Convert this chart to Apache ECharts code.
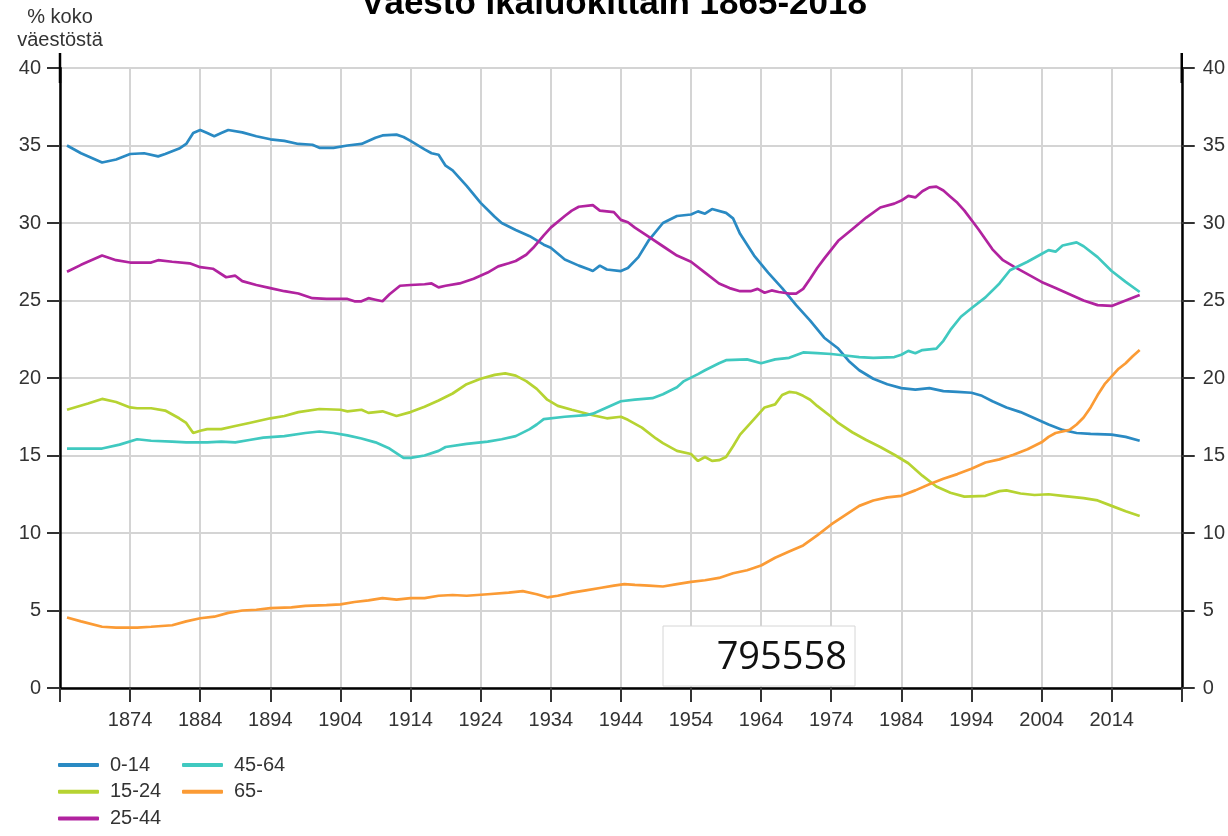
<!DOCTYPE html>
<html>
<head>
<meta charset="utf-8">
<script src="https://cdn.jsdelivr.net/npm/echarts@6/dist/echarts.min.js"></script>
<style>
html,body{margin:0;padding:0;background:#fff;}
#chart{width:1228px;height:836px;}
</style>
</head>
<body>
<div id="chart"></div>
<script>
const titleText = 'Väestö ikäluokittain 1865-2018';
const yAxisName = '% koko\nväestöstä';
const seriesNames = ['0-14', '15-24', '25-44', '45-64', '65-'];
const boxValue = '795558';

const age0_14 = [[1865,35.0],[1867,34.5],[1870,33.9],[1872,34.1],[1874,34.45],[1876,34.5],[1878,34.3],[1879,34.45],[1881,34.8],[1882,35.1],[1883,35.8],[1884,36.0],[1885,35.8],[1886,35.6],[1887,35.8],[1888,36.0],[1890,35.85],[1892,35.6],[1894,35.4],[1896,35.3],[1898,35.1],[1900,35.05],[1901,34.85],[1903,34.85],[1905,35.0],[1907,35.1],[1909,35.5],[1910,35.65],[1912,35.7],[1913,35.55],[1914,35.3],[1916,34.75],[1917,34.5],[1918,34.4],[1919,33.7],[1920,33.4],[1922,32.4],[1924,31.3],[1926,30.4],[1927,30.0],[1929,29.55],[1931,29.15],[1933,28.6],[1934,28.4],[1936,27.65],[1938,27.25],[1939.5,27.0],[1940,26.9],[1941,27.25],[1942,27.0],[1944,26.9],[1945,27.1],[1946.5,27.8],[1948,28.9],[1950,30.0],[1952,30.45],[1954,30.55],[1955,30.75],[1956,30.6],[1957,30.9],[1959,30.65],[1960,30.3],[1961,29.3],[1963,27.9],[1965,26.8],[1967,25.8],[1969,24.7],[1971,23.7],[1973,22.6],[1975,21.9],[1976.5,21.1],[1978,20.5],[1980,19.95],[1982,19.6],[1984,19.35],[1986,19.25],[1988,19.35],[1990,19.15],[1992,19.1],[1994,19.05],[1995.5,18.85],[1997,18.5],[1999,18.1],[2001,17.8],[2003,17.4],[2005,17.0],[2007,16.65],[2009,16.45],[2011,16.4],[2014,16.35],[2016,16.2],[2018,15.95]];

const age15_24 = [[1865,17.95],[1868,18.35],[1870,18.65],[1872,18.45],[1874,18.1],[1875,18.05],[1877,18.05],[1879,17.9],[1881,17.4],[1882,17.1],[1883,16.45],[1884,16.6],[1885,16.7],[1887,16.7],[1889,16.9],[1891,17.1],[1894,17.4],[1896,17.55],[1898,17.8],[1901,18.0],[1904,17.95],[1905,17.85],[1907,17.95],[1908,17.75],[1910,17.85],[1912,17.55],[1914,17.8],[1916,18.15],[1918,18.55],[1920,19.0],[1922,19.6],[1924,19.95],[1926,20.2],[1927.5,20.3],[1929,20.15],[1930.5,19.8],[1932,19.3],[1933.5,18.6],[1935,18.2],[1937,17.95],[1940,17.6],[1942,17.4],[1944,17.5],[1945,17.3],[1947,16.8],[1949,16.1],[1950,15.8],[1952,15.3],[1954,15.1],[1955,14.65],[1956,14.9],[1957,14.65],[1958,14.7],[1959,14.9],[1960,15.6],[1961,16.35],[1963,17.35],[1964.5,18.1],[1966,18.3],[1967,18.9],[1968,19.1],[1969,19.05],[1970,18.85],[1971,18.6],[1972,18.2],[1974,17.5],[1975,17.1],[1977,16.5],[1979,16.0],[1981,15.55],[1983,15.05],[1985,14.5],[1987,13.7],[1989,13.0],[1991,12.6],[1993,12.35],[1996,12.4],[1998,12.7],[1999,12.75],[2001,12.55],[2003,12.45],[2005,12.5],[2007,12.4],[2010,12.25],[2012,12.1],[2014,11.75],[2016,11.4],[2018,11.1]];

const age25_44 = [[1865,26.85],[1867,27.3],[1870,27.9],[1872,27.6],[1874,27.45],[1877,27.45],[1878,27.6],[1880,27.5],[1882.5,27.4],[1884,27.15],[1885.8,27.05],[1887.7,26.5],[1889,26.6],[1890,26.25],[1892,26.0],[1894,25.8],[1896,25.6],[1898,25.45],[1900,25.15],[1902,25.1],[1905,25.1],[1906,24.95],[1907,24.95],[1908,25.15],[1909,25.05],[1910,24.95],[1911,25.4],[1912.5,25.95],[1914,26.0],[1916,26.05],[1917,26.1],[1918,25.85],[1919,25.95],[1921,26.1],[1923,26.4],[1925,26.8],[1926.5,27.2],[1928,27.4],[1929,27.55],[1930.5,27.95],[1931.5,28.4],[1933,29.2],[1934,29.7],[1936,30.45],[1937,30.8],[1938,31.05],[1940,31.15],[1941,30.8],[1943,30.7],[1944,30.2],[1945,30.05],[1946,29.7],[1948,29.1],[1950,28.5],[1952,27.9],[1954,27.5],[1956,26.8],[1958,26.1],[1959.5,25.8],[1961,25.6],[1962.5,25.6],[1963.5,25.75],[1964.5,25.5],[1965.5,25.65],[1966.5,25.55],[1968,25.45],[1969,25.45],[1970,25.75],[1971,26.4],[1972,27.1],[1973,27.7],[1975,28.85],[1977,29.6],[1979,30.35],[1981,31.0],[1983,31.25],[1984,31.45],[1985,31.75],[1986,31.65],[1987,32.05],[1988,32.3],[1989,32.35],[1990,32.1],[1991,31.7],[1992,31.3],[1993,30.8],[1995,29.6],[1997,28.3],[1998.5,27.6],[2000,27.2],[2002,26.7],[2004,26.2],[2006,25.8],[2008,25.4],[2010,25.0],[2012,24.7],[2014,24.65],[2016,25.0],[2018,25.35]];

const age45_64 = [[1865,15.45],[1870,15.45],[1872.5,15.7],[1875,16.05],[1877,15.95],[1880,15.9],[1882,15.85],[1885,15.85],[1887,15.9],[1889,15.85],[1891,16.0],[1893,16.15],[1896,16.25],[1899,16.45],[1901,16.55],[1903,16.45],[1905,16.3],[1907,16.1],[1909,15.85],[1911,15.45],[1913,14.85],[1914,14.85],[1916,15.0],[1918,15.3],[1919,15.55],[1922,15.75],[1925,15.9],[1927,16.05],[1929,16.25],[1931,16.7],[1932,17.0],[1933,17.35],[1936,17.5],[1939,17.6],[1940,17.7],[1942,18.1],[1944,18.5],[1946,18.6],[1948.5,18.7],[1950,18.95],[1952,19.4],[1953,19.8],[1955,20.25],[1956,20.5],[1958,20.95],[1959,21.15],[1962,21.2],[1964,20.95],[1966,21.2],[1968,21.3],[1970,21.65],[1972,21.6],[1974,21.55],[1976,21.45],[1978,21.35],[1980,21.3],[1983,21.35],[1984,21.5],[1985,21.75],[1986,21.6],[1987,21.8],[1989,21.9],[1990,22.4],[1991,23.1],[1992.5,23.95],[1994,24.5],[1996,25.2],[1998,26.1],[1999.5,26.95],[2002,27.5],[2004,28.0],[2005,28.25],[2006,28.15],[2007,28.55],[2009,28.75],[2010,28.5],[2012,27.8],[2014,26.9],[2016,26.2],[2018,25.55]];

const age65plus = [[1865,4.55],[1867,4.3],[1870,3.95],[1872,3.9],[1875,3.9],[1877,3.95],[1880,4.05],[1882,4.3],[1884,4.5],[1886,4.6],[1888,4.85],[1890,5.0],[1892,5.05],[1894,5.15],[1897,5.2],[1899,5.3],[1902,5.35],[1904,5.4],[1906,5.55],[1908,5.65],[1910,5.8],[1912,5.7],[1914,5.8],[1916,5.8],[1918,5.95],[1920,6.0],[1922,5.95],[1925,6.05],[1928,6.15],[1930,6.25],[1932,6.05],[1933.5,5.85],[1935,5.95],[1937,6.15],[1939,6.3],[1941,6.45],[1943,6.6],[1944.5,6.7],[1946,6.65],[1948,6.6],[1950,6.55],[1952,6.7],[1954,6.85],[1956,6.95],[1958,7.1],[1960,7.4],[1962,7.6],[1964,7.9],[1966,8.4],[1968,8.8],[1970,9.2],[1972,9.85],[1974,10.55],[1976,11.15],[1978,11.75],[1980,12.1],[1982,12.3],[1984,12.4],[1986,12.75],[1988,13.15],[1990,13.5],[1992,13.8],[1994,14.15],[1996,14.55],[1998,14.75],[2000,15.05],[2002,15.4],[2004,15.85],[2005,16.2],[2006,16.45],[2008,16.65],[2009,17.0],[2010,17.45],[2011,18.1],[2012,18.9],[2013,19.6],[2014,20.1],[2015,20.6],[2016,20.95],[2017,21.4],[2018,21.8]];

const seriesData = [age0_14, age15_24, age25_44, age45_64, age65plus];
const seriesColors = ['#2a8ac3', '#b6d332', '#b1239f', '#40c9c0', '#fb9b35'];

const FONT = '"Liberation Sans", Arial, sans-serif';
const gridColor = '#d4d4d4';

const chart = echarts.init(document.getElementById('chart'), null, {renderer: 'canvas'});

const yAxisBase = {
  type: 'value', min: 0, max: 40, interval: 5,
  axisLine: {show: true, onZero: false, lineStyle: {color: '#000', width: 2.5}, symbol: ['none', 'rect'], symbolSize: [2.5, 30]},
  axisTick: {show: true, length: 13, lineStyle: {color: '#333', width: 2}},
  splitLine: {show: true, lineStyle: {color: gridColor, width: 2}}
};

const legendText = {fontSize: 20, color: '#333', fontFamily: FONT, padding: [0, 0, 0, 6]};
const legendBase = {orient: 'vertical', top: 755, height: 81, padding: 0, itemWidth: 41, itemHeight: 4, itemGap: 6.7, icon: 'roundRect', textStyle: legendText, selectedMode: false};

const option = {
  animation: false,
  backgroundColor: '#fff',
  title: {
    text: titleText, left: 'center', top: -18,
    textStyle: {fontFamily: FONT, fontWeight: 'bold', fontSize: 35, color: '#000'}
  },
  grid: {left: 60, right: 45, top: 68, bottom: 148, containLabel: false},
  xAxis: {
    type: 'value', min: 1864, max: 2024, interval: 10,
    axisLine: {show: true, onZero: false, lineStyle: {color: '#000', width: 2.5}},
    axisTick: {show: true, length: 14, lineStyle: {color: '#333', width: 2}},
    axisLabel: {
      margin: 22, color: '#333', fontSize: 20, fontFamily: FONT,
      formatter: v => (v === 1864 || v === 2024) ? '' : String(v)
    },
    splitLine: {show: true, lineStyle: {color: gridColor, width: 2}}
  },
  yAxis: [
    Object.assign({}, yAxisBase, {
      position: 'left',
      name: yAxisName, nameLocation: 'end', nameGap: 16,
      nameTextStyle: {fontSize: 20, color: '#333', fontFamily: FONT, lineHeight: 23, align: 'center'},
      axisLabel: {margin: 19, color: '#333', fontSize: 20, fontFamily: FONT}
    }),
    Object.assign({}, yAxisBase, {
      position: 'right',
      splitLine: {show: false},
      axisLabel: {margin: 21, color: '#333', fontSize: 20, fontFamily: FONT}
    })
  ],
  legend: [
    Object.assign({}, legendBase, {data: seriesNames.slice(0, 3), left: 58}),
    Object.assign({}, legendBase, {data: seriesNames.slice(3), left: 182})
  ],
  series: seriesNames.map((n, i) => ({
    name: n, type: 'line', data: seriesData[i], yAxisIndex: 0,
    showSymbol: false, symbol: 'none',
    lineStyle: {color: seriesColors[i], width: 2.7},
    itemStyle: {color: seriesColors[i]}
  })),
  graphic: [
    {type: 'rect', z: 100, shape: {x: 663, y: 626, width: 192, height: 60}, style: {fill: '#fff', stroke: '#d6d6d6', lineWidth: 1}},
    {type: 'text', z: 101, x: 847, y: 658, style: {text: boxValue, font: '38px "Open Sans", sans-serif', fill: '#111', textAlign: 'right', textVerticalAlign: 'middle'}}
  ]
};
chart.setOption(option);
</script>
</body>
</html>
